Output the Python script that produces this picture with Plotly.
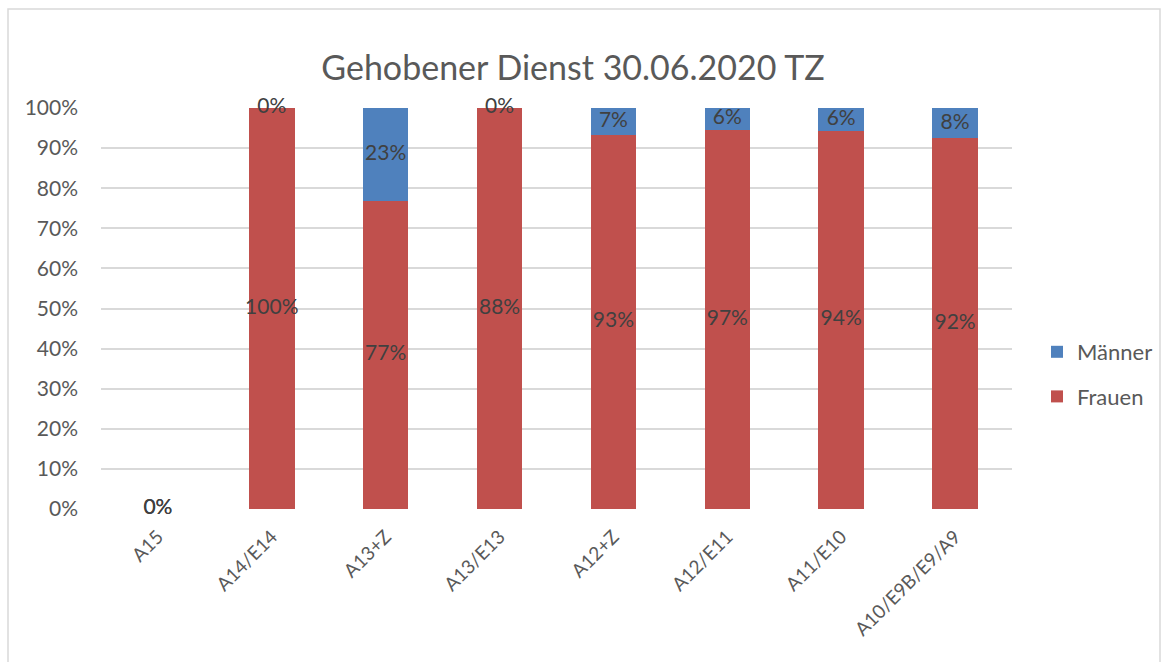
import plotly.graph_objects as go

categories = ["A15", "A14/E14", "A13+Z", "A13/E13", "A12+Z", "A12/E11", "A11/E10", "A10/E9B/E9/A9"]
frauen = [0, 1.0, 0.769, 1.0, 0.933, 0.945, 0.943, 0.924]
maenner = [0, 0.0, 0.231, 0.0, 0.067, 0.055, 0.057, 0.076]
frauen_labels = ["0%", "100%", "77%", "88%", "93%", "97%", "94%", "92%"]
maenner_labels = ["0%", "0%", "23%", "0%", "7%", "6%", "6%", "8%"]

RED = "#c0504d"
BLUE = "#4f81bd"
FONT = "Lato"

fig = go.Figure()
fig.add_trace(go.Bar(x=categories, y=frauen, name="Frauen", marker_color=RED,
                     marker_line_width=0, legendgroup="f", legendrank=2))
fig.add_trace(go.Bar(x=categories, y=maenner, name="Männer", marker_color=BLUE,
                     marker_line_width=0, legendgroup="m", legendrank=1))

f_mid = [v / 2 for v in frauen]
m_mid = [f + m / 2 for f, m in zip(frauen, maenner)]
fig.add_trace(go.Scatter(x=categories, y=f_mid, mode="text", text=frauen_labels,
                         textfont=dict(family=FONT, size=21, color="#404040"),
                         showlegend=False, hoverinfo="skip", cliponaxis=False))
fig.add_trace(go.Scatter(x=categories, y=m_mid, mode="text", text=maenner_labels,
                         textfont=dict(family=FONT, size=21, color="#404040"),
                         showlegend=False, hoverinfo="skip", cliponaxis=False))

L, R, T, B = 101, 157, 108, 153
W, H = 1169, 662
pw, ph = W - L - R, H - T - B

fig.update_layout(
    width=W, height=H,
    margin=dict(l=L, r=R, t=T, b=B, autoexpand=False),
    barmode="stack", bargap=0.6,
    paper_bgcolor="white", plot_bgcolor="white",
    title=dict(text="Gehobener Dienst 30.06.2020 TZ", x=(573 - L) / pw, xref="paper",
               xanchor="center", y=1 - 68 / H, yanchor="middle",
               font=dict(family=FONT, size=34, color="#595959")),
    legend=dict(traceorder="grouped", tracegroupgap=13,
                x=(1037 - L) / pw, xanchor="left", y=(509 - 331) / ph, yanchor="top",
                font=dict(family=FONT, size=22, color="#595959"),
                bgcolor="rgba(0,0,0,0)", itemwidth=30),
    xaxis=dict(tickangle=-45, tickfont=dict(family=FONT, size=19, color="#595959"),
               showgrid=False, showline=False, ticks="", ticklabelstandoff=12),
    yaxis=dict(range=[0, 1], dtick=0.1, tickformat=".0%", showgrid=True,
               gridcolor="#d9d9d9", gridwidth=1.5, zeroline=False, showline=False,
               ticks="", ticklabelstandoff=22,
               tickfont=dict(family=FONT, size=21, color="#595959")),
    shapes=[dict(type="rect", xref="paper", yref="paper",
                 x0=(8 - L) / pw, x1=(1160 - L) / pw,
                 y0=(509 - 668) / ph, y1=(509 - 9) / ph,
                 line=dict(color="#d9d9d9", width=1.5), fillcolor="rgba(0,0,0,0)",
                 layer="below")],
)

fig.write_html("out.html", config={"displayModeBar": False},
               post_script="document.body.style.margin='0';")
